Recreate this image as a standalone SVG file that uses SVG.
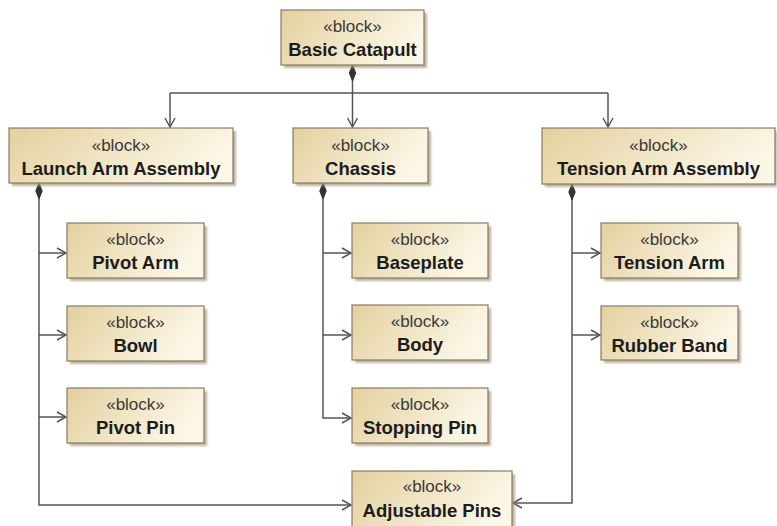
<svg xmlns="http://www.w3.org/2000/svg" width="777" height="526" viewBox="0 0 777 526">
  <defs>
    <linearGradient id="fillG" x1="0" y1="0" x2="1" y2="0.3">
      <stop offset="0" stop-color="#e3d09e"/>
      <stop offset="1" stop-color="#fbf6e6"/>
    </linearGradient>
    <filter id="blur" x="-10%" y="-10%" width="130%" height="140%">
      <feGaussianBlur stdDeviation="1"/>
    </filter>
    <marker id="arrow" markerUnits="userSpaceOnUse" markerWidth="12" markerHeight="12" refX="9" refY="5" orient="auto" overflow="visible">
      <path d="M0,0 L9,5 L0,10" fill="none" stroke="#555" stroke-width="1.5"/>
    </marker>
    <marker id="diamond" markerUnits="userSpaceOnUse" markerWidth="18" markerHeight="10" refX="0" refY="4" orient="auto" overflow="visible">
      <path d="M0,4 L8,0.8 L16,4 L8,7.2 Z" fill="#333" stroke="#333" stroke-width="1"/>
    </marker>
  </defs>
  <style>
    .shadow { fill: #9e9582; opacity: 0.7; filter: url(#blur); }
    .box { fill: url(#fillG); stroke: #8a7b5e; stroke-width: 1.2; }
    .st { font-family: "Liberation Sans", Arial, sans-serif; font-size: 17px; fill: #3a3a3a; text-anchor: middle; }
    .nm { font-family: "Liberation Sans", Arial, sans-serif; font-size: 18.5px; font-weight: bold; fill: #1c1c1c; text-anchor: middle; }
    .ln { fill: none; stroke: #555; stroke-width: 1.5; }
  </style>
  <rect width="777" height="526" fill="#ffffff"/>

  <g id="connectors">
    <path class="ln" d="M352.5,65 L352.5,93 M170,93 L608,93" marker-start="url(#diamond)"/>
    <path class="ln" d="M170,93 L170,127" marker-end="url(#arrow)"/>
    <path class="ln" d="M352.5,93 L352.5,127" marker-end="url(#arrow)"/>
    <path class="ln" d="M608,93 L608,127" marker-end="url(#arrow)"/>

    <path class="ln" d="M39,183 L39,505 L351,505" marker-start="url(#diamond)" marker-end="url(#arrow)"/>
    <path class="ln" d="M39,253 L66,253" marker-end="url(#arrow)"/>
    <path class="ln" d="M39,335 L66,335" marker-end="url(#arrow)"/>
    <path class="ln" d="M39,417 L66,417" marker-end="url(#arrow)"/>

    <path class="ln" d="M323,183 L323,418 L351,418" marker-start="url(#diamond)" marker-end="url(#arrow)"/>
    <path class="ln" d="M323,253 L351,253" marker-end="url(#arrow)"/>
    <path class="ln" d="M323,335 L351,335" marker-end="url(#arrow)"/>

    <path class="ln" d="M572,184 L572,503 L513,503" marker-start="url(#diamond)" marker-end="url(#arrow)"/>
    <path class="ln" d="M572,253 L600,253" marker-end="url(#arrow)"/>
    <path class="ln" d="M572,335 L600,335" marker-end="url(#arrow)"/>
  </g>

  <g id="basic-catapult">
    <rect class="shadow" x="284" y="13" width="143" height="55"/>
    <rect class="box" x="281" y="10" width="143" height="55"/>
    <text class="st" x="352.5" y="32">«block»</text>
    <text class="nm" x="352.5" y="56">Basic Catapult</text>
  </g>

  <g id="launch-arm-assembly">
    <rect class="shadow" x="12" y="131" width="224" height="55"/>
    <rect class="box" x="9" y="128" width="224" height="55"/>
    <text class="st" x="121" y="151">«block»</text>
    <text class="nm" x="121" y="175">Launch Arm Assembly</text>
  </g>

  <g id="chassis">
    <rect class="shadow" x="296" y="131" width="135" height="55"/>
    <rect class="box" x="293" y="128" width="135" height="55"/>
    <text class="st" x="360.5" y="151">«block»</text>
    <text class="nm" x="360.5" y="175">Chassis</text>
  </g>

  <g id="tension-arm-assembly">
    <rect class="shadow" x="545" y="131" width="232" height="56"/>
    <rect class="box" x="542" y="128" width="233" height="56"/>
    <text class="st" x="658.5" y="151">«block»</text>
    <text class="nm" x="658.5" y="175">Tension Arm Assembly</text>
  </g>

  <g id="pivot-arm">
    <rect class="shadow" x="70" y="226" width="137" height="55"/>
    <rect class="box" x="67" y="223" width="137" height="55"/>
    <text class="st" x="135.5" y="245">«block»</text>
    <text class="nm" x="135.5" y="269">Pivot Arm</text>
  </g>

  <g id="bowl">
    <rect class="shadow" x="70" y="309" width="137" height="55"/>
    <rect class="box" x="67" y="306" width="137" height="55"/>
    <text class="st" x="135.5" y="328">«block»</text>
    <text class="nm" x="135.5" y="352">Bowl</text>
  </g>

  <g id="pivot-pin">
    <rect class="shadow" x="70" y="391" width="137" height="55"/>
    <rect class="box" x="67" y="388" width="137" height="55"/>
    <text class="st" x="135.5" y="410">«block»</text>
    <text class="nm" x="135.5" y="434">Pivot Pin</text>
  </g>

  <g id="baseplate">
    <rect class="shadow" x="355" y="226" width="136" height="55"/>
    <rect class="box" x="352" y="223" width="136" height="55"/>
    <text class="st" x="420" y="245">«block»</text>
    <text class="nm" x="420" y="269">Baseplate</text>
  </g>

  <g id="body">
    <rect class="shadow" x="355" y="308" width="136" height="55"/>
    <rect class="box" x="352" y="305" width="136" height="55"/>
    <text class="st" x="420" y="327">«block»</text>
    <text class="nm" x="420" y="351">Body</text>
  </g>

  <g id="stopping-pin">
    <rect class="shadow" x="355" y="391" width="136" height="55"/>
    <rect class="box" x="352" y="388" width="136" height="55"/>
    <text class="st" x="420" y="410">«block»</text>
    <text class="nm" x="420" y="434">Stopping Pin</text>
  </g>

  <g id="tension-arm">
    <rect class="shadow" x="604" y="226" width="137" height="55"/>
    <rect class="box" x="601" y="223" width="137" height="55"/>
    <text class="st" x="669.5" y="245">«block»</text>
    <text class="nm" x="669.5" y="269">Tension Arm</text>
  </g>

  <g id="rubber-band">
    <rect class="shadow" x="604" y="309" width="137" height="54"/>
    <rect class="box" x="601" y="306" width="137" height="54"/>
    <text class="st" x="669.5" y="328">«block»</text>
    <text class="nm" x="669.5" y="352">Rubber Band</text>
  </g>

  <g id="adjustable-pins">
    <rect class="shadow" x="355" y="474" width="160" height="60"/>
    <rect class="box" x="352" y="471" width="160" height="60"/>
    <text class="st" x="432" y="492">«block»</text>
    <text class="nm" x="432" y="517">Adjustable Pins</text>
  </g>
</svg>
